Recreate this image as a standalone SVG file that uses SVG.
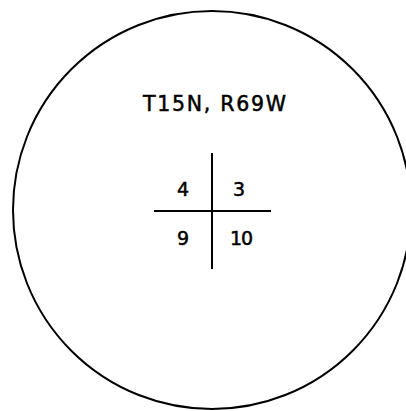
<svg xmlns="http://www.w3.org/2000/svg" width="406" height="411" viewBox="0 0 406 411">
<style>
.t{font-family:"DejaVu Sans","Liberation Sans",Arial,sans-serif;font-size:20.5px;fill:#000;stroke:#000;stroke-width:0.5}
.n{font-size:19px}
.l{stroke:#000;stroke-width:2;fill:none}
</style>
<rect width="406" height="411" fill="#fff"/>
<g id="boundary"><circle cx="212" cy="210" r="199" class="l"/></g>
<g id="title"><text class="t" x="143" y="111" textLength="143" lengthAdjust="spacing">T15N, R69W</text></g>
<g id="connectors">
<line x1="212" y1="153" x2="212" y2="269" class="l"/>
<line x1="154" y1="211" x2="271" y2="211" class="l"/>
</g>
<g id="sec4"><text class="t n" x="177" y="196">4</text></g>
<g id="sec3"><text class="t n" x="233" y="196">3</text></g>
<g id="sec9"><text class="t n" x="177" y="245">9</text></g>
<g id="sec10"><text class="t n" x="230" y="245" textLength="23" lengthAdjust="spacing">10</text></g>
</svg>
